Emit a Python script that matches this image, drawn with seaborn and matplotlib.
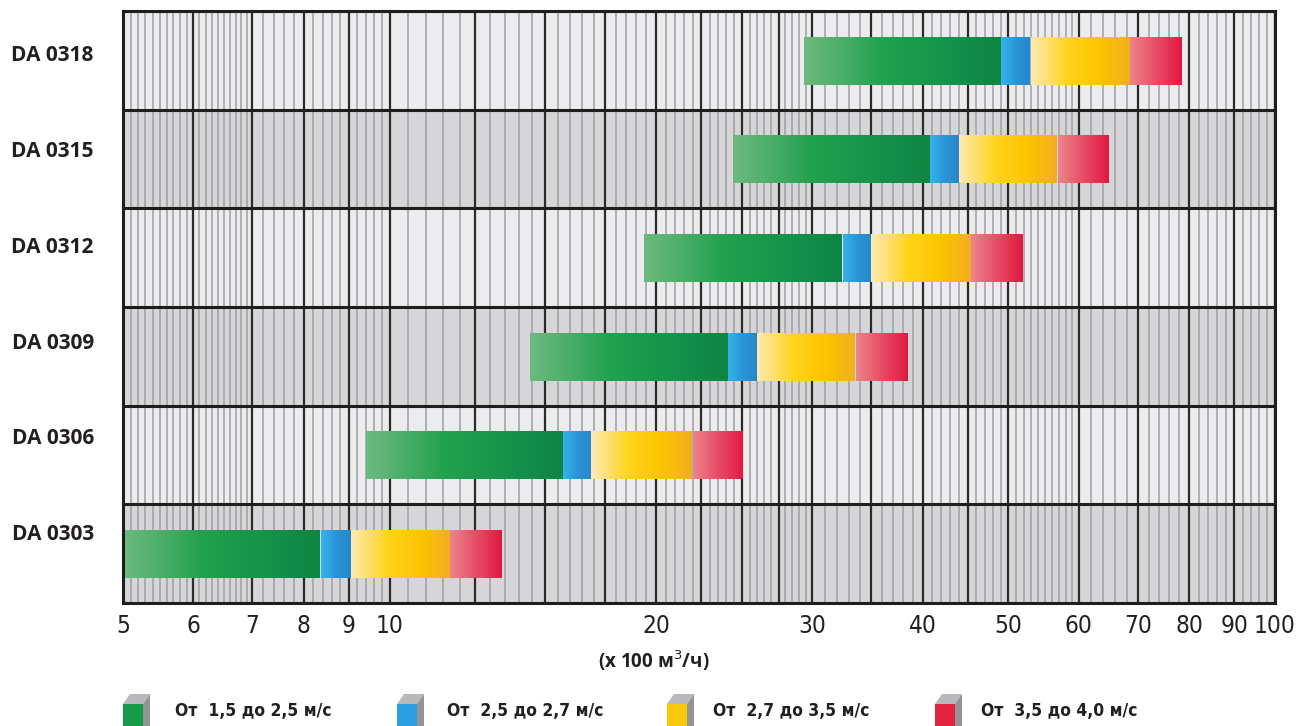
import numpy as np
import matplotlib
matplotlib.use("Agg")
import matplotlib.pyplot as plt
import seaborn as sns
from matplotlib.patches import Polygon, Rectangle
from matplotlib.ticker import NullLocator

# --- data (x 100 m3/h) ---
models = ["DA 0318", "DA 0315", "DA 0312", "DA 0309", "DA 0306", "DA 0303"]
q_start = [29.4, 24.4, 19.4, 14.4, 9.4, 5.0]          # 1,5 m/s
q_green_end = [49.1, 40.8, 32.5, 24.1, 15.7, 8.36]    # 2,5 m/s
q_blue_end = [53.0, 44.0, 35.0, 26.0, 16.9, 9.04]     # 2,7 m/s
q_yellow_end = [68.6, 56.9, 45.4, 33.6, 22.0, 11.7]   # 3,5 m/s
q_red_end = [78.6, 65.0, 52.0, 38.5, 25.1, 13.4]      # 4,0 m/s

tick_values = [5, 6, 7, 8, 9, 10, 20, 30, 40, 50, 60, 70, 80, 90, 100]
legend_labels = ["От  1,5 до 2,5 м/с", "От  2,5 до 2,7 м/с",
                 "От  2,7 до 3,5 м/с", "От  3,5 до 4,0 м/с"]

# gradient stops for each speed band
band_colors = [
    ["#6cb97f", "#22a14e", "#14934a", "#0e8442"],
    ["#33b2ea", "#2a94d6", "#2587cc"],
    ["#fdeab0", "#ffd41c", "#fcc400", "#f2ad22"],
    ["#ec838b", "#e64a62", "#e0173f"],
]
legend_colors = ["#169a48", "#2a9ee0", "#fcc80a", "#e2253f"]

sns.set_theme(style="white")
plt.rcParams["font.family"] = ["Open Sans", "DejaVu Sans"]

W, H = 1307, 726
fig = plt.figure(figsize=(W / 100, H / 100), dpi=100)
ax = fig.add_axes([123 / W, 1 - 603 / H, (1275 - 123) / W, (603 - 11) / H])
ax.set_xscale("log")

# row backgrounds
for i in range(len(models)):
    ax.axhspan(i - 0.5, i + 0.5, color="#ececee" if i % 2 == 0 else "#d6d6d8",
               lw=0, zorder=0)

# log-paper grid
minor = np.concatenate([np.arange(5, 7, 0.1), np.arange(7, 10, 0.2),
                        np.arange(10, 30, 0.5), np.arange(30, 60, 1.0),
                        np.arange(60, 100, 2.0)])
major = np.concatenate([np.arange(5, 10, 1.0), np.arange(10, 30, 2.5),
                        np.arange(30, 50, 5.0), np.arange(50, 101, 10.0)])
ax.vlines(minor, -0.5, len(models) - 0.5, colors="#a0a0a2", lw=1.1, zorder=1)
ax.vlines(major, -0.5, len(models) - 0.5, colors="#2b2b2b", lw=1.6, zorder=2)
for i in range(len(models) + 1):
    ax.axhline(i - 0.5, color="#1e1e1e", lw=2.2, zorder=2)

# gradient bars
cmaps = [sns.blend_palette(c, n_colors=128, as_cmap=True) for c in band_colors]
grad = np.linspace(0, 1, 256)[None, :]
bar_h = 0.49
for i in range(len(models)):
    edges = [q_start[i], q_green_end[i], q_blue_end[i], q_yellow_end[i], q_red_end[i]]
    for k in range(4):
        ax.imshow(grad, cmap=cmaps[k], aspect="auto", interpolation="bilinear",
                  extent=(edges[k], edges[k + 1], i + bar_h / 2, i - bar_h / 2),
                  zorder=4)

ax.set_xlim(5, 100)
ax.set_ylim(len(models) - 0.5, -0.5)

ax.set_xticks(tick_values)
ax.set_xticklabels([str(v) for v in tick_values], fontsize=17.5, color="#231f20",
                   family=["DejaVu Sans"], fontstretch="condensed")
ax.xaxis.set_minor_locator(NullLocator())
ax.tick_params(axis="x", length=0, pad=8)

ax.set_yticks([i * 0.97 - 0.07 for i in range(len(models))])
ax.set_yticklabels(models, fontsize=15, fontweight="bold", color="#231f20")
ax.tick_params(axis="y", length=0, pad=21)

for s in ax.spines.values():
    s.set_color("#1e1e1e")
    s.set_linewidth(2.2)
    s.set_zorder(5)

fig.text(654 / W, 1 - 661 / H, "(x 100 м$^{3}$/ч)", ha="center", va="center",
         fontsize=13.5, fontweight="bold", color="#231f20")

# legend with little box icons
icon_x = [123, 397, 667, 935]
text_x = [175, 447, 713, 981]


def px(x, y):
    return (x / W, 1 - y / H)


for k in range(4):
    x0 = icon_x[k]
    top = Polygon([px(x0, 704), px(x0 + 7, 694), px(x0 + 27, 694), px(x0 + 20, 704)],
                  closed=True, transform=fig.transFigure, color="#b9b9bb", lw=0)
    side = Polygon([px(x0 + 20, 704), px(x0 + 27, 694), px(x0 + 27, 726), px(x0 + 20, 726)],
                   closed=True, transform=fig.transFigure, color="#939395", lw=0)
    front = Rectangle(px(x0, 726), 20 / W, 22 / H, transform=fig.transFigure,
                      color=legend_colors[k], lw=0)
    fig.patches.extend([top, side, front])
    fig.text(text_x[k] / W, 1 - 711 / H, legend_labels[k], ha="left", va="center",
             fontsize=12.5, fontweight="bold", color="#231f20",
             family=["DejaVu Sans"], fontstretch="condensed")

fig.savefig("out.png", dpi=100)
